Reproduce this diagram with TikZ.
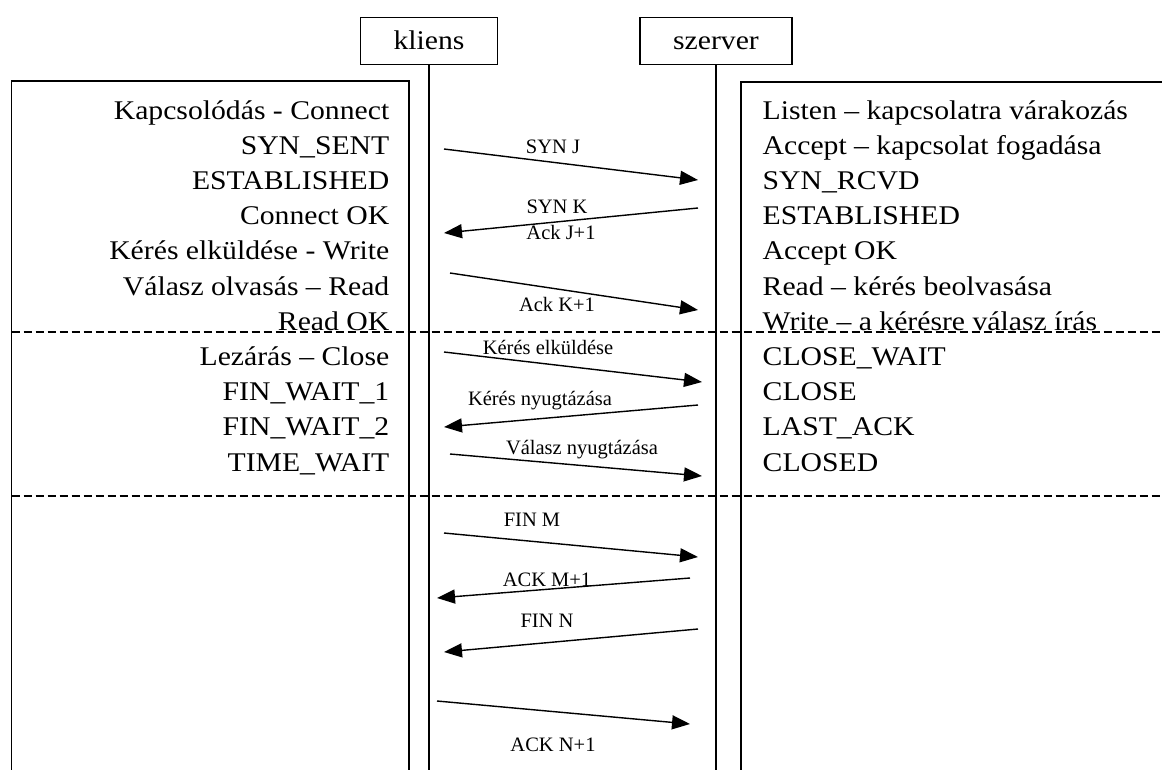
\documentclass[tikz,border=0pt]{standalone}
\usepackage{fontspec}
\setmainfont{Liberation Serif}
\newfontfamily\widefont{Liberation Serif}[FakeStretch=1.1]
\usetikzlibrary{arrows.meta}

\begin{document}
\begin{tikzpicture}[
  x=1pt, y=-1pt,
  line width=1.4pt,
  actor/.style={draw, fill=white, minimum height=47pt, inner sep=0pt, text height=18pt, text depth=1pt, font=\widefont\fontsize{27}{32}\selectfont},
  stlabel/.style={inner sep=0pt, font=\widefont\fontsize{27}{32}\selectfont},
  msg/.style={-{Triangle[length=18pt,width=14pt]}, line width=1.4pt},
  msglabel/.style={inner sep=0pt, anchor=base, font=\fontsize{20.5}{24}\selectfont},
  phase/.style={dash pattern=on 8pt off 4pt, line width=1.2pt}
]
  \useasboundingbox (0,0) rectangle (1162,769);
  \clip (0,0) rectangle (1162,769);

  % kliens / szerver
  \node[actor, minimum width=137pt] (kliens) at (429,41) {kliens};
  \node[actor, minimum width=152pt] (szerver) at (716,41) {szerver};
  \draw (kliens.south) -- (kliens.south |- 0,780);
  \draw (szerver.south) -- (szerver.south |- 0,780);

  % state columns
  \draw (11.5,780) |- (409,81) -- (409,780);
  \draw (741,780) |- (1170,82);
  \draw[phase] (11.5,332) -- (1170,332);
  \draw[phase] (11.5,496) -- (1170,496);

  \foreach \txt [count=\i from 0] in {Kapcsolódás - Connect, SYN\_SENT, ESTABLISHED, Connect OK,
      Kérés elküldése - Write, Válasz olvasás – Read, Read OK, Lezárás – Close,
      FIN\_WAIT\_1, FIN\_WAIT\_2, TIME\_WAIT}
    \node[stlabel, anchor=base east] (ls\i) at (390, 119+35.2*\i) {\txt};

  \foreach \txt [count=\i from 0] in {Listen – kapcsolatra várakozás, Accept – kapcsolat fogadása,
      SYN\_RCVD, ESTABLISHED, Accept OK, Read – kérés beolvasása,
      Write – a kérésre válasz írás, CLOSE\_WAIT, CLOSE, LAST\_ACK, CLOSED}
    \node[stlabel, anchor=base west] (rs\i) at (762, 119+35.2*\i) {\txt};

  % messages
  \foreach \xa/\ya/\xb/\yb [count=\n] in {444/149/698/180, 698/208/444/233, 450/273/698/310,
      444/352/702/382, 698/405/444/427, 450/454/702/476,
      444/533/698/557, 690/578/437/598, 698/629/444/652, 437/701/690/724} {
    \coordinate (ms\n) at (\xa,\ya);
    \coordinate (me\n) at (\xb,\yb);
    \draw[msg] (ms\n) -- (me\n);
  }

  \foreach \x/\y/\txt [count=\n] in {553/153/{SYN J}, 557/213/{SYN K}, 561/239/{Ack J+1},
      557/311/{Ack K+1}, 548/354/{Kérés elküldése}, 540/405/{Kérés nyugtázása},
      582/454/{Válasz nyugtázása}, 532/526/{FIN M}, 547/586/{ACK M+1},
      547/627/{FIN N}, 553/751/{ACK N+1}}
    \node[msglabel] (lab\n) at (\x,\y) {\txt};
\end{tikzpicture}
\end{document}
